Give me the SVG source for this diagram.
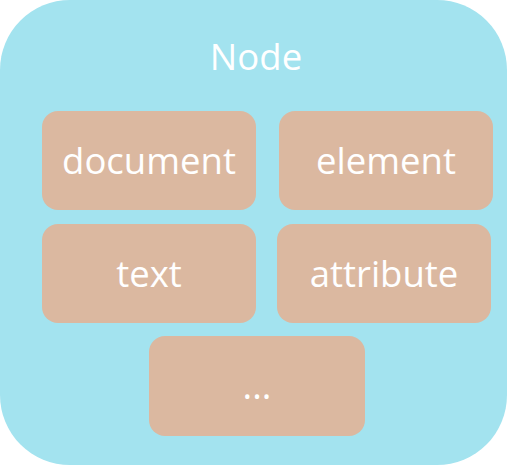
<svg xmlns="http://www.w3.org/2000/svg" width="507" height="465" viewBox="0 0 507 465">
<style>
.box{fill:#DBB8A0}
.t{fill:#ffffff;font-family:"Open Sans","Noto Sans",sans-serif;font-size:36.5px;text-anchor:middle}
</style>
<g id="node">
<rect x="0" y="0" width="507" height="465" rx="70" ry="70" fill="#A3E3EF"/>
<text class="t" x="256" y="70">Node</text>
</g>
<g id="document"><rect class="box" x="42" y="111" width="214" height="99" rx="16"/><text class="t" x="149" y="174">document</text></g>
<g id="element"><rect class="box" x="279" y="111" width="214" height="99" rx="16"/><text class="t" x="386" y="174">element</text></g>
<g id="text"><rect class="box" x="42" y="224" width="214" height="99" rx="16"/><text class="t" x="149" y="287">text</text></g>
<g id="attribute"><rect class="box" x="277" y="224" width="214" height="99" rx="16"/><text class="t" x="384" y="287">attribute</text></g>
<g id="more"><rect class="box" x="149" y="336" width="216" height="100" rx="16"/><text class="t" x="257" y="399">...</text></g>
<g id="connectors"/>
</svg>
